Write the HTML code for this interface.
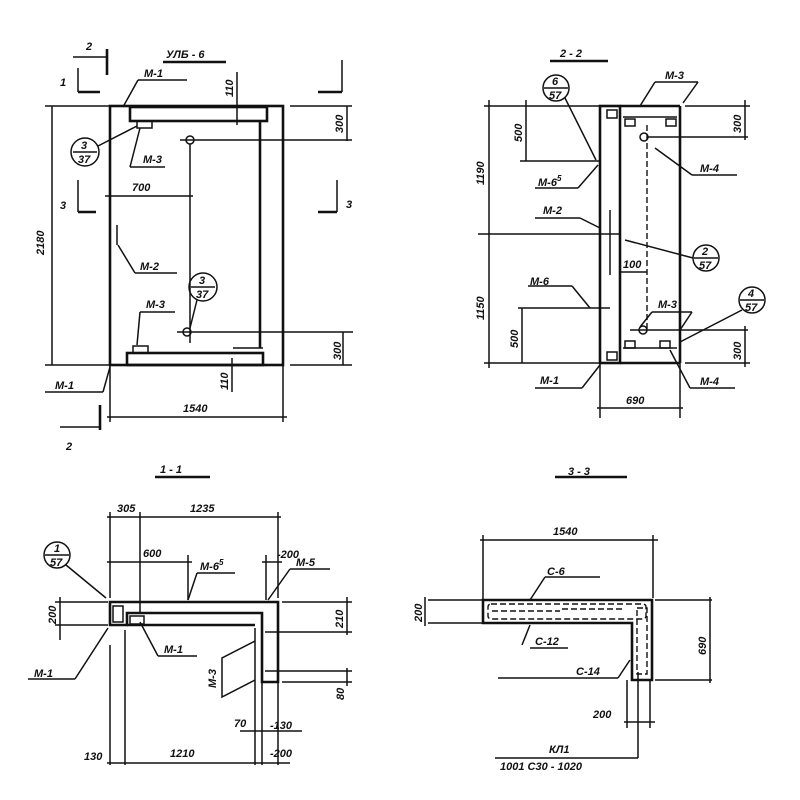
<!DOCTYPE html>
<html><head><meta charset="utf-8"><style>
html,body{margin:0;padding:0;background:#fff}
svg{display:block}
text{font-family:"Liberation Sans",sans-serif;font-style:italic;font-weight:bold;font-size:11px;fill:#111}
.o{stroke:#111;stroke-width:2.6;fill:none}
.l{stroke:#111;stroke-width:1.5;fill:none}
.d{stroke:#111;stroke-width:1.4;fill:none;stroke-dasharray:6 3}
</style></head><body>
<svg width="800" height="800" viewBox="0 0 800 800" xmlns="http://www.w3.org/2000/svg">
<text x="166" y="58" font-size="13">УЛБ - 6</text>
<line class="o" x1="163" y1="62" x2="226" y2="62"/>
<text x="86" y="50" font-size="12">2</text>
<line class="l" x1="73" y1="57" x2="106" y2="57"/><line class="o" x1="107" y1="49" x2="107" y2="75"/>
<text x="60" y="86" font-size="12">1</text>
<line class="l" x1="78" y1="68" x2="78" y2="92"/><line class="o" x1="78" y1="92" x2="100" y2="92"/>
<text x="60" y="209" font-size="12">3</text>
<line class="l" x1="78" y1="180" x2="78" y2="212"/><line class="o" x1="78" y1="212" x2="96" y2="212"/>
<line class="l" x1="342" y1="60" x2="342" y2="92"/><line class="o" x1="318" y1="92" x2="342" y2="92"/>
<line class="l" x1="337" y1="180" x2="337" y2="212"/><line class="o" x1="318" y1="212" x2="337" y2="212"/>
<text x="346" y="208" font-size="12">3</text>
<line class="o" x1="100" y1="405" x2="100" y2="430"/><line class="l" x1="60" y1="427" x2="100" y2="427"/>
<text x="66" y="450" font-size="12">2</text>
<rect class="o" x="110" y="106" width="173" height="259"/>
<rect class="o" x="130" y="107" width="137" height="14"/>
<line class="o" x1="260" y1="121" x2="260" y2="348"/>
<rect class="o" x="127" y="353" width="136" height="12"/>
<line class="l" x1="233" y1="348" x2="263" y2="348"/>
<rect class="l" x="137" y="121" width="15" height="7"/>
<rect class="l" x="133" y="346" width="15" height="7"/>
<line class="l" x1="117" y1="225" x2="117" y2="245"/>
<line class="l" x1="52" y1="106" x2="52" y2="365"/>
<line class="l" x1="45" y1="106" x2="110" y2="106"/><line class="l" x1="45" y1="365" x2="110" y2="365"/>
<text transform="translate(44,255) rotate(-90)">2180</text>
<line class="l" x1="290" y1="106" x2="352" y2="106"/>
<line class="l" x1="347" y1="106" x2="347" y2="141"/>
<text transform="translate(343,133) rotate(-90)">300</text>
<circle class="l" cx="190" cy="140" r="4"/><line class="l" x1="180" y1="140" x2="352" y2="140"/>
<line class="l" x1="190" y1="144" x2="190" y2="343"/>
<circle class="l" cx="187" cy="332" r="4"/><line class="l" x1="177" y1="332" x2="353" y2="332"/>
<line class="l" x1="343" y1="332" x2="343" y2="365"/><line class="l" x1="290" y1="365" x2="352" y2="365"/>
<text transform="translate(341,360) rotate(-90)">300</text>
<line class="l" x1="105" y1="196" x2="193" y2="196"/>
<text x="132" y="191">700</text>
<line class="l" x1="237" y1="72" x2="237" y2="125"/>
<text transform="translate(233,97) rotate(-90)">110</text>
<line class="l" x1="232" y1="358" x2="232" y2="392"/>
<text transform="translate(228,390) rotate(-90)">110</text>
<line class="l" x1="110" y1="365" x2="110" y2="422"/><line class="l" x1="283" y1="365" x2="283" y2="422"/>
<line class="l" x1="107" y1="417" x2="287" y2="417"/>
<text x="183" y="412">1540</text>
<text x="144" y="77">М-1</text><line class="l" x1="138" y1="80" x2="187" y2="80"/><line class="l" x1="138" y1="80" x2="123" y2="107"/>
<circle class="l" cx="85" cy="152" r="14"/><line class="l" x1="73" y1="152" x2="97" y2="152"/>
<text x="81" y="149" font-size="9">3</text><text x="78" y="163" font-size="9">37</text>
<line class="l" x1="98" y1="146" x2="137" y2="126"/>
<text x="143" y="163">М-3</text><line class="l" x1="130" y1="167" x2="165" y2="167"/><line class="l" x1="130" y1="167" x2="140" y2="128"/>
<text x="140" y="270">М-2</text><line class="l" x1="135" y1="273" x2="177" y2="273"/><line class="l" x1="135" y1="273" x2="118" y2="245"/>
<text x="146" y="308">М-3</text><line class="l" x1="140" y1="312" x2="175" y2="312"/><line class="l" x1="140" y1="312" x2="137" y2="345"/>
<circle class="l" cx="203" cy="287" r="14"/><line class="l" x1="191" y1="287" x2="215" y2="287"/>
<text x="199" y="284" font-size="9">3</text><text x="196" y="298" font-size="9">37</text>
<line class="l" x1="197" y1="300" x2="190" y2="328"/>
<text x="55" y="389">М-1</text><line class="l" x1="45" y1="392" x2="103" y2="392"/><line class="l" x1="103" y1="392" x2="110" y2="367"/>

<text x="560" y="57" font-size="13">2 - 2</text>
<line class="o" x1="550" y1="61" x2="608" y2="61"/>
<rect class="o" x="600" y="106" width="20" height="257"/>
<line class="o" x1="620" y1="106" x2="680" y2="106"/><line class="o" x1="680" y1="106" x2="680" y2="363"/><line class="o" x1="620" y1="363" x2="680" y2="363"/>
<line class="l" x1="623" y1="117" x2="677" y2="117"/><line class="l" x1="623" y1="348" x2="677" y2="348"/>
<line class="d" x1="647" y1="125" x2="647" y2="330"/>
<rect class="l" x="607" y="110" width="10" height="8"/><rect class="l" x="607" y="352" width="10" height="8"/>
<rect class="l" x="625" y="119" width="10" height="7"/><rect class="l" x="666" y="119" width="10" height="7"/>
<rect class="l" x="625" y="341" width="10" height="7"/><rect class="l" x="660" y="341" width="10" height="7"/>
<line class="l" x1="610" y1="210" x2="610" y2="275"/>
<circle class="l" cx="644" cy="137" r="4"/><line class="l" x1="648" y1="137" x2="748" y2="137"/>
<circle class="l" cx="643" cy="330" r="4"/><line class="l" x1="630" y1="330" x2="748" y2="330"/>
<line class="l" x1="489" y1="100" x2="489" y2="368"/>
<line class="l" x1="484" y1="106" x2="600" y2="106"/><line class="l" x1="478" y1="234" x2="620" y2="234"/><line class="l" x1="484" y1="363" x2="600" y2="363"/>
<text transform="translate(484,185) rotate(-90)">1190</text>
<text transform="translate(484,320) rotate(-90)">1150</text>
<line class="l" x1="526" y1="100" x2="526" y2="161"/><line class="l" x1="520" y1="161" x2="600" y2="161"/>
<text transform="translate(522,142) rotate(-90)">500</text>
<line class="l" x1="522" y1="308" x2="522" y2="363"/><line class="l" x1="518" y1="308" x2="610" y2="308"/>
<text transform="translate(518,348) rotate(-90)">500</text>
<line class="l" x1="745" y1="100" x2="745" y2="140"/><line class="l" x1="685" y1="106" x2="750" y2="106"/>
<text transform="translate(741,133) rotate(-90)">300</text>
<line class="l" x1="745" y1="326" x2="745" y2="367"/><line class="l" x1="685" y1="363" x2="750" y2="363"/>
<text transform="translate(741,360) rotate(-90)">300</text>
<line class="l" x1="600" y1="363" x2="600" y2="418"/><line class="l" x1="680" y1="363" x2="680" y2="418"/>
<line class="l" x1="597" y1="408" x2="683" y2="408"/>
<text x="626" y="404">690</text>
<line class="l" x1="620" y1="272" x2="647" y2="272"/><text x="623" y="268">100</text>
<text x="665" y="79">М-3</text><line class="l" x1="655" y1="82" x2="698" y2="82"/><line class="l" x1="655" y1="82" x2="640" y2="106"/><line class="l" x1="698" y1="82" x2="683" y2="103"/>
<circle class="l" cx="556" cy="88" r="13"/><line class="l" x1="544" y1="88" x2="568" y2="88"/>
<text x="552" y="85" font-size="9">6</text><text x="549" y="99" font-size="9">57</text>
<line class="l" x1="565" y1="98" x2="596" y2="160"/>
<text x="538" y="186">М-6<tspan font-size="8" dy="-5">5</tspan></text><line class="l" x1="535" y1="188" x2="578" y2="188"/><line class="l" x1="578" y1="188" x2="598" y2="165"/>
<text x="700" y="172">М-4</text><line class="l" x1="692" y1="175" x2="737" y2="175"/><line class="l" x1="692" y1="175" x2="655" y2="148"/>
<text x="543" y="214">М-2</text><line class="l" x1="535" y1="218" x2="580" y2="218"/><line class="l" x1="580" y1="218" x2="600" y2="228"/>
<circle class="l" cx="706" cy="258" r="13"/><line class="l" x1="694" y1="258" x2="718" y2="258"/>
<text x="702" y="255" font-size="9">2</text><text x="699" y="269" font-size="9">57</text>
<line class="l" x1="625" y1="240" x2="693" y2="258"/>
<text x="530" y="285">М-6</text><line class="l" x1="528" y1="286" x2="572" y2="286"/><line class="l" x1="572" y1="286" x2="590" y2="308"/>
<text x="658" y="308">М-3</text><line class="l" x1="652" y1="312" x2="692" y2="312"/><line class="l" x1="652" y1="312" x2="640" y2="327"/><line class="l" x1="692" y1="312" x2="680" y2="330"/>
<circle class="l" cx="752" cy="300" r="13"/><line class="l" x1="740" y1="300" x2="764" y2="300"/>
<text x="748" y="297" font-size="9">4</text><text x="745" y="311" font-size="9">57</text>
<line class="l" x1="742" y1="310" x2="680" y2="342"/>
<text x="540" y="384">М-1</text><line class="l" x1="535" y1="388" x2="582" y2="388"/><line class="l" x1="582" y1="388" x2="600" y2="365"/>
<text x="700" y="385">М-4</text><line class="l" x1="690" y1="388" x2="735" y2="388"/><line class="l" x1="690" y1="388" x2="670" y2="350"/>

<text x="160" y="473" font-size="13">1 - 1</text>
<line class="o" x1="155" y1="477" x2="210" y2="477"/>
<path class="o" d="M110 602 L278 602 L278 682 L262 682 L262 613 L127 613 L127 625 L110 625 Z"/>
<line class="o" x1="127" y1="625" x2="255" y2="625"/>
<rect class="l" x="113" y="606" width="10" height="16"/>
<rect class="l" x="130" y="616" width="14" height="8"/>
<line class="l" x1="110" y1="645" x2="110" y2="765"/><line class="l" x1="125" y1="630" x2="125" y2="765"/>
<line class="l" x1="255" y1="628" x2="255" y2="765"/><line class="l" x1="262" y1="682" x2="262" y2="765"/><line class="l" x1="278" y1="682" x2="278" y2="765"/>
<line class="l" x1="110" y1="512" x2="110" y2="598"/><line class="l" x1="140" y1="512" x2="140" y2="612"/><line class="l" x1="278" y1="512" x2="278" y2="598"/>
<line class="l" x1="107" y1="517" x2="281" y2="517"/>
<text x="117" y="512">305</text><text x="190" y="512">1235</text>
<line class="l" x1="107" y1="562" x2="192" y2="562"/><line class="l" x1="188" y1="555" x2="188" y2="600"/>
<text x="143" y="557">600</text>
<line class="l" x1="262" y1="562" x2="282" y2="562"/><line class="l" x1="266" y1="555" x2="266" y2="600"/>
<text x="277" y="558" font-size="10">-200</text>
<line class="l" x1="60" y1="597" x2="60" y2="640"/><line class="l" x1="55" y1="602" x2="108" y2="602"/><line class="l" x1="55" y1="625" x2="108" y2="625"/>
<text transform="translate(56,624) rotate(-90)">200</text>
<line class="l" x1="347" y1="597" x2="347" y2="635"/><line class="l" x1="282" y1="602" x2="352" y2="602"/><line class="l" x1="265" y1="632" x2="352" y2="632"/>
<text transform="translate(343,628) rotate(-90)">210</text>
<line class="l" x1="265" y1="671" x2="352" y2="671"/><line class="l" x1="282" y1="682" x2="352" y2="682"/><line class="l" x1="347" y1="668" x2="347" y2="686"/>
<text transform="translate(344,700) rotate(-90)">80</text>
<line class="l" x1="240" y1="731" x2="302" y2="731"/>
<text x="234" y="727">70</text><text x="270" y="729">-130</text>
<line class="l" x1="107" y1="763" x2="290" y2="763"/>
<text x="84" y="760">130</text><text x="170" y="757">1210</text><text x="270" y="757">-200</text>
<circle class="l" cx="57" cy="555" r="13"/><line class="l" x1="45" y1="555" x2="69" y2="555"/>
<text x="54" y="552" font-size="9">1</text><text x="50" y="566" font-size="9">57</text>
<line class="l" x1="66" y1="565" x2="106" y2="598"/>
<text x="200" y="570">М-6<tspan font-size="8" dy="-5">5</tspan></text><line class="l" x1="197" y1="573" x2="235" y2="573"/><line class="l" x1="197" y1="573" x2="188" y2="600"/>
<text x="296" y="566">М-5</text><line class="l" x1="290" y1="569" x2="330" y2="569"/><line class="l" x1="290" y1="569" x2="268" y2="600"/>
<text x="34" y="677">М-1</text><line class="l" x1="28" y1="679" x2="75" y2="679"/><line class="l" x1="75" y1="679" x2="108" y2="628"/>
<text x="164" y="653">М-1</text><line class="l" x1="158" y1="656" x2="197" y2="656"/><line class="l" x1="158" y1="656" x2="140" y2="622"/>
<path class="l" d="M255 641 L222 658 L222 697 L255 680"/>
<text transform="translate(216,688) rotate(-90)">М-3</text>

<text x="568" y="475" font-size="13">3 - 3</text>
<line class="o" x1="555" y1="477" x2="627" y2="477"/>
<line class="l" x1="480" y1="540" x2="658" y2="540"/>
<line class="l" x1="483" y1="535" x2="483" y2="600"/><line class="l" x1="653" y1="535" x2="653" y2="598"/>
<text x="553" y="535">1540</text>
<path class="o" d="M483 600 L652 600 L652 680 L632 680 L632 623 L483 623 Z"/>
<rect class="d" x="488" y="604" width="158" height="15" rx="3"/>
<line class="d" x1="492" y1="611" x2="560" y2="611"/><line class="d" x1="562" y1="609" x2="625" y2="609"/>
<rect class="d" x="637" y="608" width="10" height="66"/>
<line class="l" x1="428" y1="600" x2="483" y2="600"/><line class="l" x1="428" y1="623" x2="483" y2="623"/>
<line class="l" x1="425" y1="597" x2="425" y2="626"/>
<text transform="translate(422,622) rotate(-90)">200</text>
<line class="l" x1="655" y1="600" x2="712" y2="600"/><line class="l" x1="655" y1="680" x2="712" y2="680"/>
<line class="l" x1="710" y1="597" x2="710" y2="683"/>
<text transform="translate(706,655) rotate(-90)">690</text>
<line class="l" x1="627" y1="680" x2="627" y2="728"/><line class="l" x1="650" y1="680" x2="650" y2="728"/>
<line class="l" x1="624" y1="722" x2="655" y2="722"/>
<text x="593" y="718">200</text>
<line class="l" x1="638" y1="672" x2="638" y2="758"/><line class="l" x1="495" y1="758" x2="638" y2="758"/>
<text x="549" y="753" font-size="10">КЛ1</text>
<text x="500" y="770" font-size="10">1001  С30 - 1020</text>
<text x="547" y="575">С-6</text><line class="l" x1="545" y1="577" x2="600" y2="577"/><line class="l" x1="545" y1="577" x2="530" y2="600"/>
<text x="535" y="645">С-12</text><line class="l" x1="530" y1="648" x2="568" y2="648"/><line class="l" x1="522" y1="645" x2="530" y2="625"/>
<text x="576" y="675">С-14</text><line class="l" x1="498" y1="678" x2="618" y2="678"/><line class="l" x1="618" y1="678" x2="630" y2="660"/>
</svg>
</body></html>
